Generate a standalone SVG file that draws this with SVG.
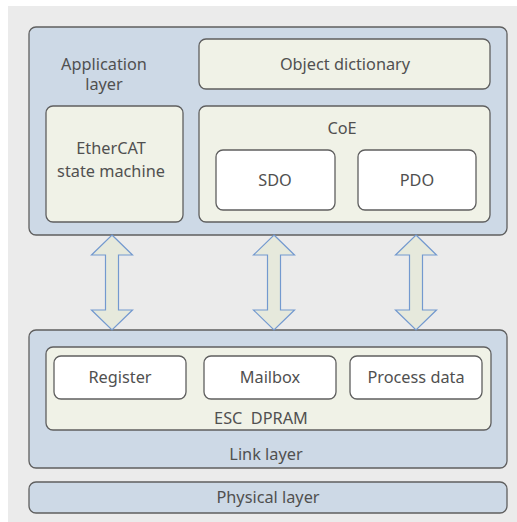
<svg xmlns="http://www.w3.org/2000/svg" width="517" height="522" viewBox="0 0 517 522">
<style>
.bg{fill:#ebebeb}
.layer{fill:#cdd9e6;stroke:#5f5f5f;stroke-width:1.3}
.inner{fill:#f0f2e7;stroke:#5f5f5f;stroke-width:1.3}
.leaf{fill:#ffffff;stroke:#5f5f5f;stroke-width:1.3}
.arrow{fill:#e6e9dc;stroke:#7399cf;stroke-width:1.2;stroke-linejoin:miter}
text{font-family:"Noto Sans","Liberation Sans",sans-serif;font-size:16.3px;fill:#505050;text-anchor:middle}
</style>
<rect class="bg" x="8" y="6" width="509" height="516"/>
<g id="application-layer">
<rect class="layer" x="29" y="27" width="478" height="208" rx="7"/>
<text x="104" y="70">Application</text>
<text x="104" y="90">layer</text>
</g>
<g id="object-dictionary">
<rect class="inner" x="199" y="39" width="291" height="50" rx="7"/>
<text x="345" y="70">Object dictionary</text>
</g>
<g id="state-machine">
<rect class="inner" x="46" y="106" width="137" height="116" rx="7"/>
<text x="111" y="154">EtherCAT</text>
<text x="111" y="177">state machine</text>
</g>
<g id="coe">
<rect class="inner" x="199" y="106" width="291" height="116" rx="7"/>
<text x="342" y="134">CoE</text>
</g>
<g id="sdo">
<rect class="leaf" x="216" y="150" width="119" height="60" rx="7"/>
<text x="275" y="186">SDO</text>
</g>
<g id="pdo">
<rect class="leaf" x="358" y="150" width="118" height="60" rx="7"/>
<text x="417" y="186">PDO</text>
</g>
<g id="link-layer">
<rect class="layer" x="29" y="330" width="478" height="138" rx="7"/>
<text x="266" y="460">Link layer</text>
</g>
<g id="esc-dpram">
<rect class="inner" x="46" y="347" width="445" height="83" rx="7"/>
<text x="261" y="424" xml:space="preserve">ESC  DPRAM</text>
</g>
<g id="register">
<rect class="leaf" x="54" y="356" width="132" height="43" rx="7"/>
<text x="120" y="383">Register</text>
</g>
<g id="mailbox">
<rect class="leaf" x="204" y="356" width="132" height="43" rx="7"/>
<text x="270" y="383">Mailbox</text>
</g>
<g id="process-data">
<rect class="leaf" x="350" y="356" width="132" height="43" rx="7"/>
<text x="416" y="383">Process data</text>
</g>
<g id="physical-layer">
<rect class="layer" x="29" y="482" width="478" height="31" rx="7"/>
<text x="268" y="503">Physical layer</text>
</g>
<g id="connectors">
<path class="arrow" d="M112,235 L132.5,255 L118.5,255 L118.5,310 L132.5,310 L112,330 L91.5,310 L105.5,310 L105.5,255 L91.5,255 Z"/>
<path class="arrow" d="M274,235 L294.5,255 L280.5,255 L280.5,310 L294.5,310 L274,330 L253.5,310 L267.5,310 L267.5,255 L253.5,255 Z"/>
<path class="arrow" d="M416,235 L436.5,255 L422.5,255 L422.5,310 L436.5,310 L416,330 L395.5,310 L409.5,310 L409.5,255 L395.5,255 Z"/>
</g>
</svg>
